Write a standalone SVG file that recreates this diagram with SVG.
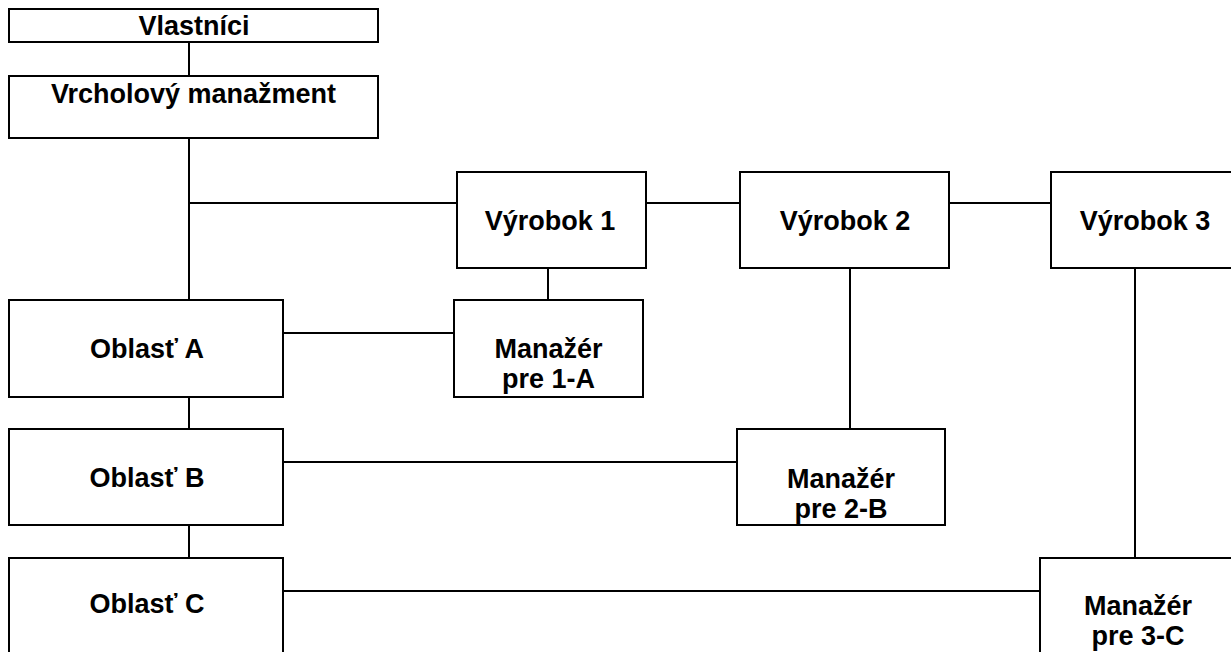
<svg xmlns="http://www.w3.org/2000/svg" width="1231" height="652" viewBox="0 0 1231 652">
<style>
.box{fill:#fff;stroke:#000;stroke-width:2}
.ln{stroke:#000;stroke-width:2;fill:none}
.t{font-family:"Liberation Sans",Arial,sans-serif;font-weight:bold;font-size:27px;fill:#000;text-anchor:middle}
</style>
<rect width="1231" height="652" fill="#fff"/>
<g id="connectors">
<path class="ln" d="M189 42V76M189 138V300M189 203H457M646 203H740M949 203H1051M548 268V300M283 333H454M850 268V429M189 397V429M283 462H737M1135 268V558M189 525V558M283 591H1040"/>
</g>
<g id="vlastnici"><rect class="box" x="9" y="9" width="369" height="33"/><text class="t" x="194" y="35">Vlastníci</text></g>
<g id="vrcholovy"><rect class="box" x="9" y="76" width="369" height="62"/><text class="t" x="193.5" y="103">Vrcholový manažment</text></g>
<g id="vyrobok1"><rect class="box" x="457" y="172" width="189" height="96"/><text class="t" x="550" y="230">Výrobok 1</text></g>
<g id="vyrobok2"><rect class="box" x="740" y="172" width="209" height="96"/><text class="t" x="845" y="230">Výrobok 2</text></g>
<g id="vyrobok3"><rect class="box" x="1051" y="172" width="190" height="96"/><text class="t" x="1145" y="230">Výrobok 3</text></g>
<g id="oblastA"><rect class="box" x="9" y="300" width="274" height="97"/><text class="t" x="147" y="358">Oblasť A</text></g>
<g id="manazer1A"><rect class="box" x="454" y="300" width="189" height="97"/><text class="t" x="548.5" y="358">Manažér</text><text class="t" x="548.5" y="388">pre 1-A</text></g>
<g id="oblastB"><rect class="box" x="9" y="429" width="274" height="96"/><text class="t" x="147" y="487">Oblasť B</text></g>
<g id="manazer2B"><rect class="box" x="737" y="429" width="208" height="96"/><text class="t" x="841" y="488">Manažér</text><text class="t" x="841" y="518">pre 2-B</text></g>
<g id="oblastC"><rect class="box" x="9" y="558" width="274" height="100"/><text class="t" x="147" y="613">Oblasť C</text></g>
<g id="manazer3C"><rect class="box" x="1040" y="558" width="196" height="100"/><text class="t" x="1138" y="615">Manažér</text><text class="t" x="1138" y="645">pre 3-C</text></g>
</svg>
